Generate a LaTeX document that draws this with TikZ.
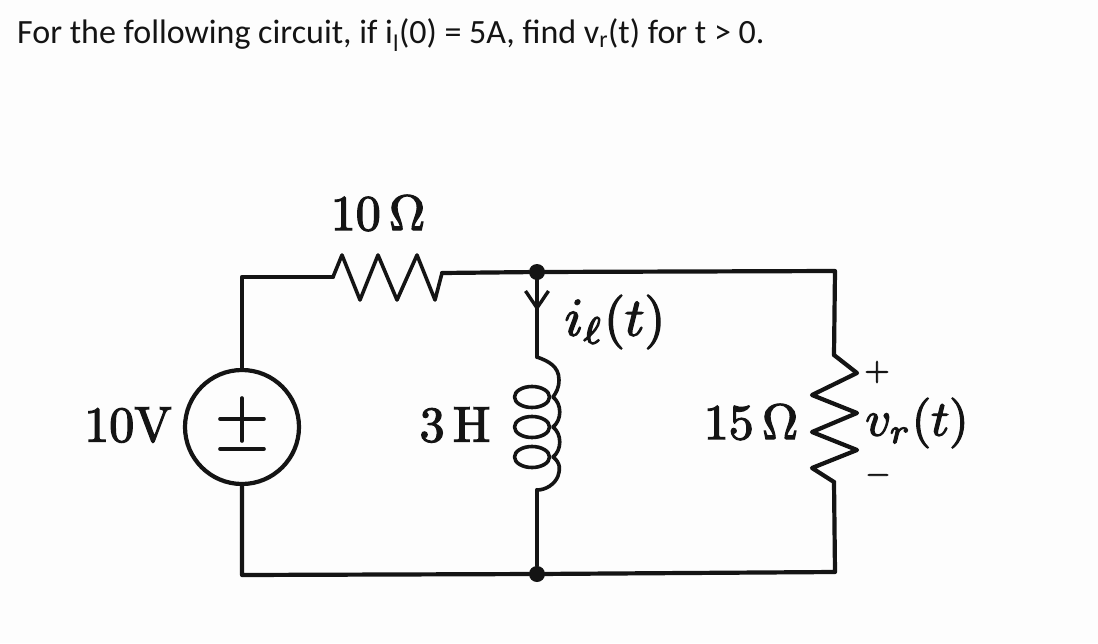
\documentclass[tikz,border=0pt]{standalone}
\usepackage{fontspec}
\newfontfamily\titlefont{Carlito}
\usetikzlibrary{arrows.meta}
\definecolor{ink}{HTML}{141414}
\definecolor{paper}{HTML}{FDFDFD}
\newcommand{\heavytext}[1]{\special{pdf:code 2 Tr 0.25 w}#1\special{pdf:code 0 Tr}}
\tikzset{
  wire/.style={draw=ink,line width=4.2pt,line join=round,line cap=round},
  thinw/.style={draw=ink,line width=3.6pt,line join=round,line cap=round},
  dotnode/.style={circle,fill=ink,inner sep=0pt,minimum size=16pt},
  srcnode/.style={circle,draw=ink,line width=4.2pt,fill=none,inner sep=0pt,minimum size=114pt},
  lab/.style={text=ink,inner sep=0pt,scale=5},
  titlelab/.style={text=ink,inner sep=0pt,anchor=west,font=\titlefont\fontsize{34}{36}\selectfont}
}
\begin{document}
\begin{tikzpicture}[x=1pt,y=-1pt]
\useasboundingbox[fill=paper] (0,0) rectangle (1098,643);
\node[titlelab] (title) at (17,35) {For the following circuit, if i\textsubscript{l}(0) = 5A, find v\textsubscript{r}(t) for t > 0.};
% junctions and source
\node[dotnode] (top) at (537,272) {};
\node[dotnode] (bot) at (537,574) {};
\node[srcnode] (src) at (242,427) {};
\coordinate (tl) at (242,277);
\coordinate (bl) at (242,575);
\coordinate (tr) at (835,271);
\coordinate (br) at (835,572);
\coordinate (ra) at (333,277);
\coordinate (rb) at (442,273);
\coordinate (ia) at (537,357);
\coordinate (ib) at (537,490);
\coordinate (ca) at (834,355);
\coordinate (cb) at (834,482);
\coordinate (tip) at (537,311);
% wires
\draw[wire] (src.north) -- (tl) -- (ra);
\draw[wire] (rb) -- (top) -- (tr) -- (ca);
\draw[wire] (src.south) -- (bl) -- (bot) -- (br) -- (cb);
\draw[wire] (ib) -- (bot);
\draw[wire] (top) -- (ia);
\draw[wire,-{Straight Barb[length=17pt,width=23pt,line width=3.4pt]}] (top) -- (tip);
% 10 ohm resistor
\draw[thinw] (ra) -- (342,255) -- (360,300) -- (378,255) -- (397,300) -- (417,255) -- (435,300) -- (rb);
% 15 ohm resistor
\draw[wire] (ca) -- (857,373) -- (812,395) -- (857,413) -- (812,432) -- (857,450) -- (812,468) -- (cb);
% inductor
\draw[thinw] (ia) .. controls (548,361) and (559,366) .. (559,380) .. controls (559,388) and (556,393) .. (553,397);
\draw[thinw] (553,397) .. controls (562,404) and (562,420) .. (553,427);
\draw[thinw] (553,427) .. controls (562,434) and (562,450) .. (553,457);
\draw[thinw] (553,457) .. controls (561,463) and (560,470) .. (558,476) .. controls (555,484) and (546,490) .. (ib);
\draw[thinw] (532,397) ellipse[x radius=17.5pt,y radius=10.5pt];
\draw[thinw] (532,427) ellipse[x radius=17.5pt,y radius=10.5pt];
\draw[thinw] (532,457) ellipse[x radius=17.5pt,y radius=10.5pt];
% source polarity marks
\draw[thinw] (220,419) -- (264,419);
\draw[thinw] (242,398) -- (242,441);
\draw[thinw] (220,449) -- (264,449);
% labels
\node[lab] (l10) at (378,213) {\heavytext{$10\,\Omega$}};
\node[lab] (l10v) at (128,425) {\heavytext{10V}};
\node[lab] (l3h) at (455,425) {\heavytext{3\,H}};
\node[lab] (l15) at (751,422) {\heavytext{$15\,\Omega$}};
\node[lab,scale=1.08] (lil) at (615,322) {\heavytext{$i_\ell(t)$}};
\node[lab] (lvr) at (917,423) {\heavytext{$v_r(t)$}};
\node[lab,scale=0.65] (lp) at (877,372) {\heavytext{$+$}};
\node[lab,scale=0.65] (lm) at (878,475) {\heavytext{$-$}};
\end{tikzpicture}
\end{document}
